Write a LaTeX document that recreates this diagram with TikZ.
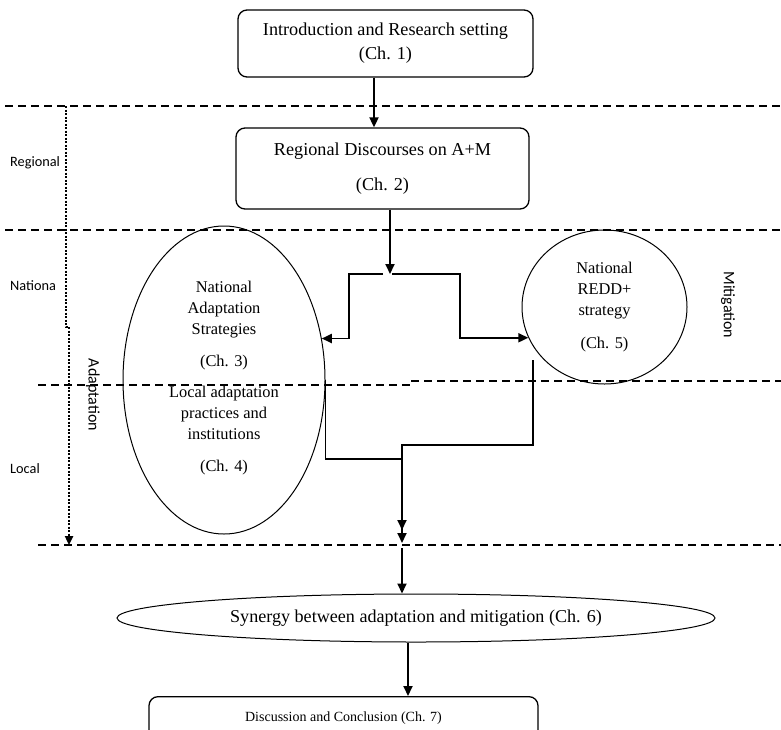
\documentclass[tikz,border=0pt]{standalone}
\usepackage{fontspec}
\setmainfont{Liberation Serif}
\newfontfamily\sidefont{Carlito}
\usetikzlibrary{arrows.meta,shapes.geometric}

\tikzset{
  box/.style={draw,rounded corners=9pt,line width=1.3pt,align=center,inner sep=0pt},
  oval/.style={draw,ellipse,line width=1pt,inner sep=0pt},
  arr/.style={line width=1.8pt,-{Triangle[length=10pt,width=9pt]}},
  levelline/.style={dash pattern=on 8pt off 5pt,line width=1.5pt},
  lvl/.style={font=\sidefont\fontsize{14.3}{17}\selectfont,anchor=west,inner sep=0pt},
  sidetitle/.style={font=\sidefont\fontsize{16}{19}\selectfont,rotate=-90,inner sep=0pt},
  txt/.style={align=center,inner sep=0pt,font=\fontsize{16.4}{21}\selectfont}
}

\begin{document}
\begin{tikzpicture}[x=1pt,y=-1pt]
\useasboundingbox (0,0) rectangle (781,729);
\clip (0,0) rectangle (781,729);

\draw[levelline] (5,106) -- (781,106);
\draw[levelline] (5,230) -- (781,230);
\draw[levelline] (38,385) -- (410,385) -- (410,381) -- (781,381);
\draw[levelline] (38,545) -- (781,545);

\node[lvl] (lregional) at (10,163) {Regional};
\node[lvl] (lnational) at (10,286) {Nationa};
\node[lvl] (llocal) at (10,469) {Local};
\node[sidetitle] (ladapt) at (93,395) {Adaptation};
\node[sidetitle] (lmitig) at (728,305) {Mitigation};
\draw[line width=2.4pt,dash pattern=on 2pt off 1.5pt,-{Triangle[length=9pt,width=8pt]}] (66,106) -- (66,327) -- (69,327) -- (69,545);

\node[box,minimum width=295pt,minimum height=67pt,font=\fontsize{18.2}{24}\selectfont] (intro) at (385.5,43.5) {Introduction and Research setting\\(Ch. 1)};
\node[box,minimum width=293pt,minimum height=81pt,font=\fontsize{18.2}{24}\selectfont] (regional) at (382.5,168.5) {Regional Discourses on A+M\\[11pt](Ch. 2)};
\node[oval,minimum width=202pt,minimum height=308pt] (adapt) at (224,380) {};
\node[txt] (natadapt) at (224,326) {National\\Adaptation\\Strategies\\[11pt](Ch. 3)};
\node[txt] (locadapt) at (224,431) {Local adaptation\\practices and\\institutions\\[11pt](Ch. 4)};
\node[oval,txt,minimum width=165pt,minimum height=154pt] (redd) at (604.5,307) {National\\REDD+\\strategy\\[12pt](Ch. 5)};
\node[oval,minimum width=598pt,minimum height=48pt,font=\fontsize{18.1}{22}\selectfont] (synergy) at (416,618) {Synergy between adaptation and mitigation (Ch. 6)};
\node[box,anchor=north,minimum width=389pt,text height=12pt,text depth=30pt,inner ysep=13pt,font=\fontsize{14}{17}\selectfont] (concl) at (343.5,696) {Discussion and Conclusion (Ch. 7)};

\coordinate (split) at (390,274);
\coordinate (meet) at (402,545);
\coordinate (rtap) at (533,360);
\draw[arr] ([xshift=-11.5pt]intro.south) -- ([xshift=-8.5pt]regional.north);
\draw[arr] ([xshift=7.5pt]regional.south) -- (split);
\draw[arr] ([xshift=-7pt]split) -- ++(-34,0) |- (adapt.23);
\draw[arr] ([xshift=2pt]split) -- ++(68,0) |- (redd.202);
\draw[arr] (adapt.east) -- ++(0,79) -| ([yshift=15pt]meet);
\draw[arr] (rtap) -- ++(0,85) -| ([yshift=2pt]meet);
\draw[arr] ([yshift=-3pt]meet) -- ([xshift=-14pt]synergy.north);
\draw[arr] ([xshift=-8pt]synergy.south) -- ([xshift=64.5pt]concl.north);
\end{tikzpicture}
\end{document}
